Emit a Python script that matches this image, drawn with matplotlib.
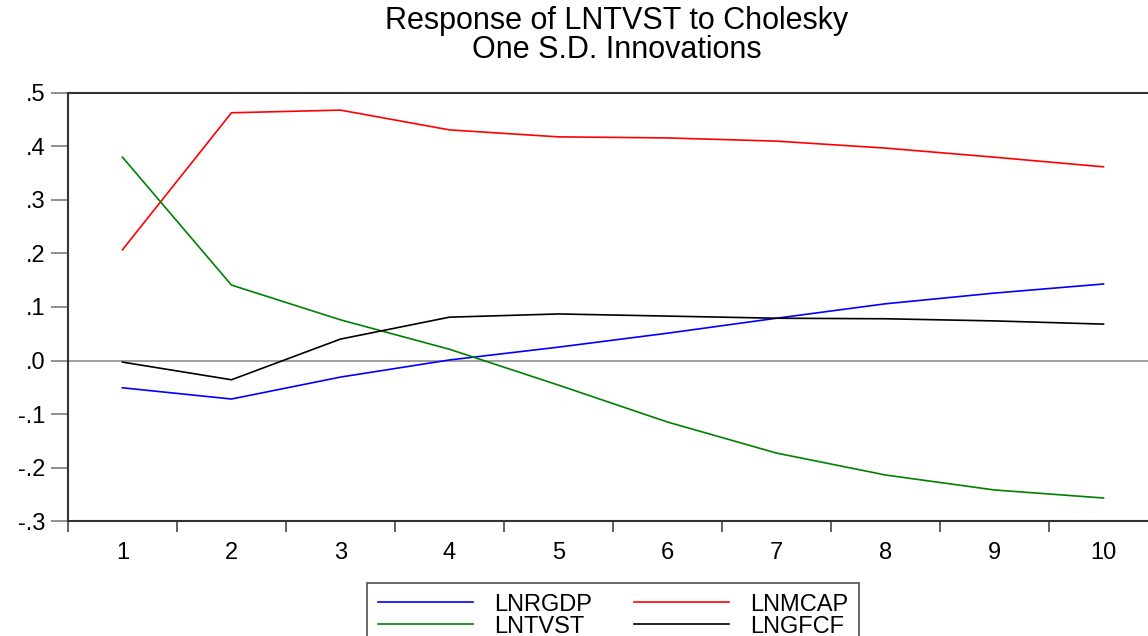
import matplotlib.pyplot as plt

plt.rcParams['font.family'] = ['Liberation Sans', 'DejaVu Sans']

# Impulse responses
periods = [1, 2, 3, 4, 5, 6, 7, 8, 9, 10]
lnrgdp = [-0.051, -0.072, -0.031, 0.001, 0.025, 0.051, 0.079, 0.106, 0.126, 0.143]
lnmcap = [0.207, 0.463, 0.468, 0.431, 0.418, 0.416, 0.410, 0.397, 0.380, 0.362]
lntvst = [0.380, 0.141, 0.076, 0.021, -0.046, -0.115, -0.173, -0.214, -0.242, -0.257]
lngfcf = [-0.003, -0.036, 0.040, 0.081, 0.087, 0.083, 0.079, 0.078, 0.074, 0.068]

y_ticks = [0.5, 0.4, 0.3, 0.2, 0.1, 0.0, -0.1, -0.2, -0.3]
y_labels = ['.5', '.4', '.3', '.2', '.1', '.0', '-.1', '-.2', '-.3']

fig = plt.figure(figsize=(11.48, 6.36), dpi=100)
ax = fig.add_axes([0.0592, 0.1808, 0.9495, 0.673])

ax.axhline(0, color='#999999', lw=1.3, zorder=1)
l1, = ax.plot(periods, lnrgdp, color='#0000ff', lw=1.2, label='LNRGDP')
l2, = ax.plot(periods, lnmcap, color='#ff0000', lw=1.2, label='LNMCAP')
l3, = ax.plot(periods, lntvst, color='#008000', lw=1.2, label='LNTVST')
l4, = ax.plot(periods, lngfcf, color='#000000', lw=1.2, label='LNGFCF')

ax.set_xlim(0.5, 10.5)
ax.set_ylim(-0.3, 0.5)

ax.set_yticks(y_ticks)
ax.set_yticklabels(y_labels, fontsize=17)
ax.tick_params(axis='y', length=12, width=1.3, color='#888888', pad=4)

# labels at integers, tick marks between them
ax.set_xticks(periods)
ax.set_xticklabels([str(p) for p in periods], fontsize=17)
ax.set_xticks([p + 0.5 for p in range(0, 11)], minor=True)
ax.tick_params(axis='x', which='major', length=0, pad=15)
ax.tick_params(axis='x', which='minor', length=8, width=1.3, color='#555555')

for s in ['left', 'top', 'bottom', 'right']:
    ax.spines[s].set_linewidth(1.5)
    ax.spines[s].set_color('#333333')

fig.text(0.537, 0.99, 'Response of LNTVST to Cholesky', ha='center', va='top', fontsize=22)
fig.text(0.537, 0.945, 'One S.D. Innovations', ha='center', va='top', fontsize=22)

# row-wise order like the original: RGDP, MCAP / TVST, GFCF
leg = fig.legend([l1, l3, l2, l4], ['LNRGDP', 'LNTVST', 'LNMCAP', 'LNGFCF'],
                 loc='upper center', bbox_to_anchor=(0.534, 0.0833), borderaxespad=0,
                 ncol=2, fontsize=17, frameon=True, fancybox=False, edgecolor='#333333',
                 handlelength=4.0, columnspacing=1.8, labelspacing=0.0,
                 borderpad=0.45, handletextpad=0.9)
leg.get_frame().set_linewidth(1.3)

fig.savefig('out.png', dpi=100)
